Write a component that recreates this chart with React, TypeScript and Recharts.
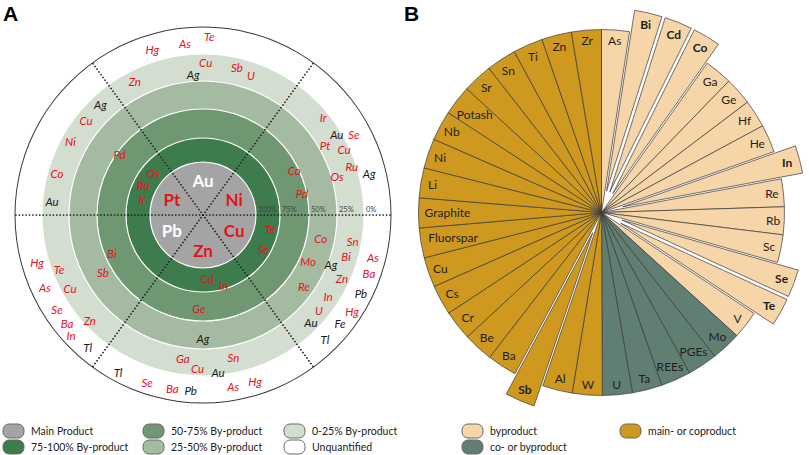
import React from "react";
import { Cell, Pie, PieChart } from "recharts";

const W = 809;
const H = 455;

// ---------- panel A data ----------
const products = ["Ni", "Au", "Pt", "Pb", "Zn", "Cu"];
const productShare = [15, 20, 15, 15, 20, 15];
const productRed = [true, false, true, false, true, true];

const ringNames = [
  "Main Product",
  "75-100% By-product",
  "50-75% By-product",
  "25-50% By-product",
  "0-25% By-product",
  "Unquantified"
];
const ringTicks = ["100%", "75%", "50%", "25%", "0%"];

// element, angle (deg), ring level (0 = centre, 1 = 100%, 2 = 75%, 3 = 50%, 4 = 25%, 5 = 0%, 6 = edge), black
const byproductsA: [string, number, number, number][] = [
  ["Hg", 107, 5.46, 0], ["As", 96, 5.44, 0], ["Te", 88, 5.67, 0],
  ["Zn", 117, 4.6, 0], ["Ag", 94, 4.27, 1], ["Cu", 89, 4.67, 0], ["Sb", 77, 4.63, 0], ["U", 71, 4.5, 0],
  ["Ag", 133, 4.61, 1], ["Cu", 141, 4.61, 0], ["Ni", 151, 4.65, 0], ["Co", 164, 4.66, 0], ["Au", 175, 4.65, 1],
  ["Pd", 144, 2.9, 0], ["Os", 140, 1.51, 0], ["Ru", 154, 1.57, 0], ["Ir", 166, 1.41, 0],
  ["Ir", 39, 4.77, 0], ["Au", 31, 4.82, 1], ["Se", 28, 5.37, 0], ["Pt", 29.5, 4.23, 0], ["Cu", 25, 4.8, 0],
  ["Ru", 18, 4.83, 0], ["Ag", 14, 5.38, 1], ["Os", 16, 4.2, 0], ["Co", 26, 2.85, 0], ["Pd", 12.5, 2.84, 0],
  ["Te", -12.6, 1.65, 0], ["Se", -29.5, 1.67, 0], ["Co", -11.5, 3.51, 0], ["Mo", -24, 3.32, 0],
  ["Ag", -21, 4.11, 1], ["Re", -35.5, 3.64, 0],
  ["Sn", -10, 4.67, 0], ["Bi", -16, 4.55, 0], ["Zn", -24.7, 4.7, 0], ["In", -33, 4.56, 0],
  ["U", -39.6, 4.61, 0], ["Au", -45, 4.69, 1],
  ["As", -14, 5.52, 0], ["Ba", -19.3, 5.55, 0], ["Pb", -26.3, 5.56, 1], ["Hg", -33, 5.62, 0],
  ["Fe", -38.3, 5.5, 1], ["Tl", -45.5, 5.48, 1],
  ["Cd", -86.4, 1.46, 0], ["In", -73.7, 1.85, 0], ["Ge", -92.5, 2.56, 0], ["Ag", -90, 3.64, 1],
  ["Ga", -98, 4.39, 0], ["Cu", -92, 4.74, 0], ["Au", -84.5, 4.88, 1], ["Sn", -78, 4.45, 0],
  ["As", -80, 5.5, 0], ["Hg", -72.7, 5.51, 0],
  ["Bi", 203, 2.76, 0], ["Sb", 210, 3.34, 0],
  ["Hg", 196, 5.43, 0], ["Te", 200.6, 4.73, 0], ["As", 204.5, 5.47, 0], ["Cu", 209, 4.67, 0],
  ["Se", 212.8, 5.47, 0], ["Ba", 218.5, 5.47, 0], ["Zn", 223, 4.77, 0], ["In", 222.5, 5.67, 0],
  ["Tl", 229, 5.55, 1], ["Tl", 241.6, 5.65, 1], ["Se", 251.5, 5.56, 0], ["Ba", 260, 5.58, 0],
  ["Pb", 266, 5.57, 1]
];

// ---------- panel B data ----------
const byproductOnly = ["As", "Bi", "Cd", "Co", "Ga", "Ge", "Hf", "He", "In", "Re", "Rb", "Sc", "Se", "Te", "V"];
const coOrByproduct = ["Mo", "PGEs", "REEs", "Ta", "U"];
const mainOrCoproduct = [
  "W", "Al", "Sb", "Ba", "Be", "Cr", "Cs", "Cu", "Fluorspar", "Graphite",
  "Li", "Ni", "Nb", "Potash", "Sr", "Sn", "Ti", "Zn", "Zr"
];
const highlighted = ["Bi", "Cd", "Co", "In", "Se", "Te", "Sb"];
const groupNames = ["byproduct", "co- or byproduct", "main- or coproduct"];

// ---------- styling ----------
const RED = "#e8101a";
const ringColors = ["#a4a4a4", "#3e7b4d", "#6f9872", "#a4bba1", "#d3ddd0", "#ffffff"];
const groupColors = ["#f6d5a8", "#607e72", "#cf991f"];
const A = { cx: 203, cy: 215 };
const ringRadii = [0, 53, 77, 106, 134, 161, 188];
const B = { cx: 601.5, cy: 212.5, r: 183, split: -42.3, pull: 22 };
const sans = "Lato, 'Open Sans', sans-serif";

const levelToRadius = (l: number) => {
  const i = Math.min(Math.floor(l), 5);
  return ringRadii[i] + (l - i) * (ringRadii[i + 1] - ringRadii[i]);
};
const polar = (cx: number, cy: number, r: number, deg: number) => {
  const a = (deg * Math.PI) / 180;
  return { x: cx + r * Math.cos(a), y: cy - r * Math.sin(a) };
};

const productData = products.map((name, i) => ({ name, value: productShare[i], red: productRed[i] }));
const outerRing = [{ name: "edge", value: 1 }];

const sideBy = byproductOnly.map((name) => ({ name, value: 1, group: 0 }));
const sideRest = [
  ...coOrByproduct.map((name) => ({ name, value: 1, group: 1 })),
  ...mainOrCoproduct.map((name) => ({ name, value: 1, group: 2 }))
];
const sides = [
  { data: sideBy, start: 90, end: B.split },
  { data: sideRest, start: B.split, end: -270 }
];

const productLabel = (p: any) => {
  const d = p.payload ?? p;
  const pt = polar(p.cx, p.cy, 35, p.midAngle);
  return (
    <text key={d.name} x={pt.x} y={pt.y} textAnchor="middle" dominantBaseline="central"
      fontFamily={sans} fontWeight={700} fontSize={17} fill={d.red ? RED : "#fff"}>
      {d.name}
    </text>
  );
};

const elementLabel = (only: string | null) => (p: any) => {
  const name: string = p.payload?.name ?? p.name;
  const hi = highlighted.includes(name);
  if (only ? name !== only : hi) return null;
  const fs = 12;
  const w = name.length * fs * (hi ? 0.55 : 0.5);
  const a = (p.midAngle * Math.PI) / 180;
  const c = Math.cos(a);
  const s = Math.sin(a);
  const r = p.outerRadius - 5 - (w / 2) * Math.abs(c) - fs * 0.45 * Math.abs(s);
  return (
    <text x={p.cx + r * c} y={p.cy - r * s} textAnchor="middle" dominantBaseline="central"
      fontFamily={sans} fontSize={fs} fontWeight={hi ? 700 : 400} fill="#1e1e1e">
      {name}
    </text>
  );
};

const PanelAOverlay = () => {
  let acc = 0;
  const total = productShare.reduce((s, v) => s + v, 0);
  const bounds = productShare.map((v) => {
    const b = (acc / total) * 360;
    acc += v;
    return b;
  });
  return (
    <g>
      {bounds.map((deg, i) => {
        const end = polar(A.cx, A.cy, ringRadii[6], deg);
        return (
          <line key={i} x1={A.cx} y1={A.cy} x2={end.x} y2={end.y} stroke="#1c1c1c"
            strokeWidth={1.7} strokeDasharray="0.1 3.3" strokeLinecap="round" />
        );
      })}
      {ringTicks.map((t, i) => (
        <text key={t} x={A.cx + ringRadii[i + 1] + 2} y={A.cy - 3} fontFamily={sans}
          fontSize={7.5} fill="#444">
          {t}
        </text>
      ))}
      {byproductsA.map(([el, deg, lvl, black], i) => {
        const pt = polar(A.cx, A.cy, levelToRadius(lvl), deg);
        return (
          <text key={i} x={pt.x} y={pt.y} textAnchor="middle" dominantBaseline="central"
            fontFamily={sans} fontStyle="italic" fontSize={11.5} fill={black ? "#1a1a1a" : RED}>
            {el}
          </text>
        );
      })}
    </g>
  );
};

const LegendBox = ({ x, y, color, label }: { x: number; y: number; color: string; label: string }) => (
  <g>
    <rect x={x} y={y - 7} width={21} height={14} rx={6} fill={color} stroke="#6a6a6a" strokeWidth={1} />
    <text x={x + 28} y={y} dominantBaseline="central" fontFamily={sans} fontSize={10.5} fill="#222">
      {label}
    </text>
  </g>
);

const Legends = () => {
  const colA = [3, 143, 284];
  const rows = [431, 447];
  const orderA = [0, 2, 4, 1, 3, 5];
  const colB = [462, 620];
  const orderB = [0, 2, 1];
  return (
    <g>
      {orderA.map((ri, k) => (
        <LegendBox key={ringNames[ri]} x={colA[k % 3]} y={rows[Math.floor(k / 3)]}
          color={ringColors[ri]} label={ringNames[ri]} />
      ))}
      {orderB.map((gi, k) => (
        <LegendBox key={groupNames[gi]} x={colB[k % 2]} y={rows[Math.floor(k / 2)]}
          color={groupColors[gi]} label={groupNames[gi]} />
      ))}
      <text x={3} y={21} fontFamily="'Liberation Sans', Arial, sans-serif" fontWeight={700} fontSize={21}>A</text>
      <text x={404} y={21} fontFamily="'Liberation Sans', Arial, sans-serif" fontWeight={700} fontSize={21}>B</text>
    </g>
  );
};

export default function App() {
  const total = productShare.reduce((s, v) => s + v, 0);
  return (
    <div style={{ position: "absolute", left: 0, top: 0, width: W, height: H, background: "#fff" }}>
      <PieChart width={W} height={H} margin={{ top: 0, right: 0, bottom: 0, left: 0 }}>
        {/* panel A: concentric by-product rings */}
        {ringColors.slice(1, 5).map((color, i) => (
          <Pie key={`ring${i}`} data={productData} dataKey="value" cx={A.cx} cy={A.cy}
            innerRadius={ringRadii[i + 1] + 0.6} outerRadius={ringRadii[i + 2] - 0.6}
            fill={color} stroke="none" isAnimationActive={false} />
        ))}
        <Pie data={productData} dataKey="value" cx={A.cx} cy={A.cy} innerRadius={0}
          outerRadius={ringRadii[1] - 0.6} fill={ringColors[0]} stroke="none"
          isAnimationActive={false} />
        <Pie data={outerRing} dataKey="value" cx={A.cx} cy={A.cy} innerRadius={ringRadii[6] - 0.5}
          outerRadius={ringRadii[6] + 0.5} fill="#3a3a3a" stroke="none" isAnimationActive={false} />

        {/* panel B: base sectors */}
        {sides.map((side, si) => (
          <Pie key={`side${si}`} data={side.data} dataKey="value" cx={B.cx} cy={B.cy}
            outerRadius={B.r} startAngle={side.start} endAngle={side.end}
            label={elementLabel(null)} labelLine={false} isAnimationActive={false}>
            {side.data.map((d) => {
              const hi = highlighted.includes(d.name);
              return (
                <Cell key={d.name} fill={hi ? "none" : groupColors[d.group]}
                  stroke={hi ? "none" : "#3a3a3a"} strokeWidth={0.7} />
              );
            })}
          </Pie>
        ))}

        {/* panel B: pulled-out sectors */}
        {highlighted.map((h) => {
          const side = sides.find((s) => s.data.some((d) => d.name === h))!;
          const idx = side.data.findIndex((d) => d.name === h);
          const mid = side.start + ((side.end - side.start) * (idx + 0.5)) / side.data.length;
          const c = polar(B.cx, B.cy, B.pull, mid);
          return (
            <Pie key={`x${h}`} data={side.data} dataKey="value" cx={c.x} cy={c.y}
              outerRadius={B.r} startAngle={side.start} endAngle={side.end}
              label={elementLabel(h)} labelLine={false} isAnimationActive={false}>
              {side.data.map((d) => (
                <Cell key={d.name} fill={d.name === h ? groupColors[d.group] : "none"}
                  stroke={d.name === h ? "#3a3a3a" : "none"} strokeWidth={0.7} />
              ))}
            </Pie>
          );
        })}
      </PieChart>

      {/* annotation layer above the pies */}
      <svg width={W} height={H} style={{ position: "absolute", left: 0, top: 0, pointerEvents: "none" }}>
        <PanelAOverlay />
        {productData.map((d, i) => {
          const before = productShare.slice(0, i).reduce((s, v) => s + v, 0);
          return productLabel({
            cx: A.cx, cy: A.cy, payload: d,
            midAngle: ((before + d.value / 2) / total) * 360
          });
        })}
        <Legends />
      </svg>
    </div>
  );
}
